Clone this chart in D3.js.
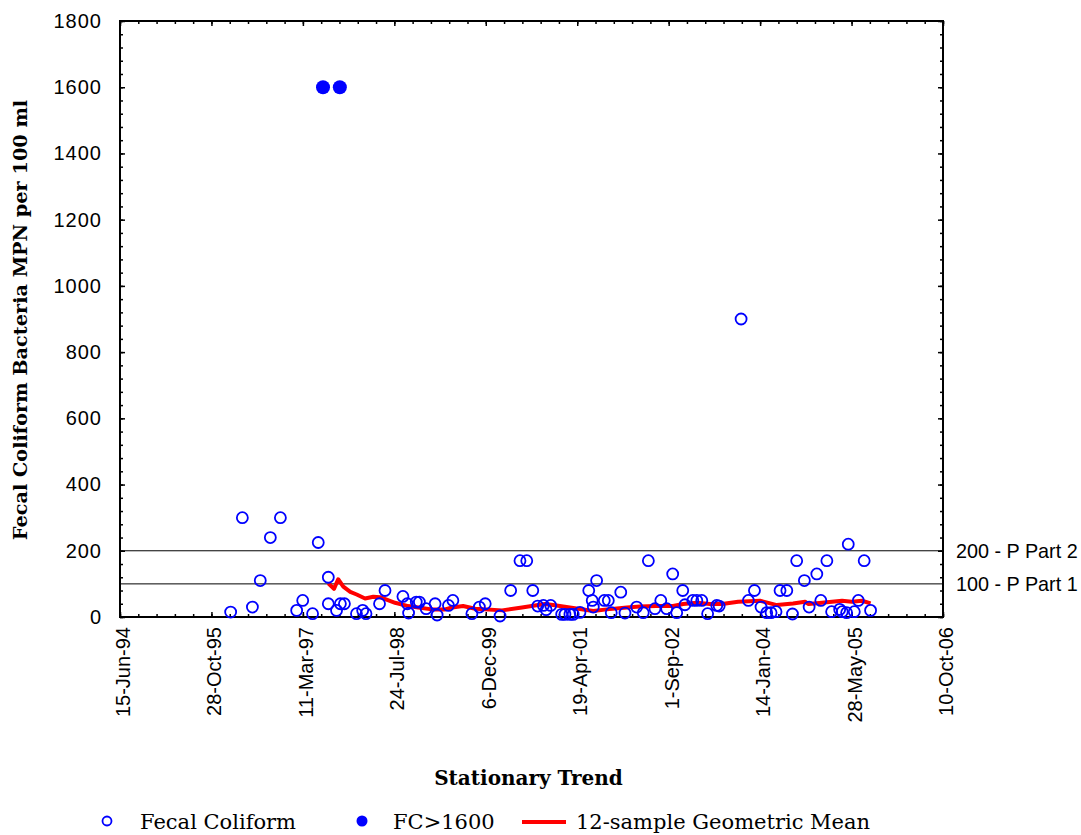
<!DOCTYPE html>
<html>
<head>
<meta charset="utf-8">
<script src="https://cdn.jsdelivr.net/npm/d3@7"></script>
<style>
  body { margin: 0; background: #fff; }
  .sans { font-family: "Liberation Sans", Arial, sans-serif; }
  .serif { font-family: "DejaVu Serif", "Liberation Serif", serif; }
</style>
</head>
<body>
<script>
// x tick labels (every 500 days)
var tickLabels = ["15-Jun-94", "28-Oct-95", "11-Mar-97", "24-Jul-98", "6-Dec-99",
                  "19-Apr-01", "1-Sep-02", "14-Jan-04", "28-May-05", "10-Oct-06"];
var yTicks = [0, 200, 400, 600, 800, 1000, 1200, 1400, 1600, 1800];

// Fecal Coliform samples
var fcDates = ["1996-02-10", "1996-04-14", "1996-06-08", "1996-07-21", "1996-09-14", "1996-11-08",
    "1997-02-05", "1997-03-10", "1997-05-03", "1997-06-03", "1997-07-28", "1997-07-28", "1997-09-11",
    "1997-10-02", "1997-10-24", "1997-12-29", "1998-02-01", "1998-02-19", "1998-05-04", "1998-06-03",
    "1998-09-09", "1998-10-03", "1998-10-10", "1998-11-21", "1998-12-08", "1999-01-14", "1999-03-04",
    "1999-03-15", "1999-05-16", "1999-06-09", "1999-09-21", "1999-11-01", "1999-12-03", "2000-02-22",
    "2000-04-20", "2000-06-10", "2000-07-17", "2000-08-19", "2000-09-15", "2000-10-16", "2000-10-31",
    "2000-11-25", "2001-01-24", "2001-02-11", "2001-03-10", "2001-03-28", "2001-05-04", "2001-06-21",
    "2001-07-10", "2001-07-16", "2001-08-03", "2001-09-14", "2001-10-06", "2001-10-22", "2001-12-13",
    "2002-01-05", "2002-03-10", "2002-04-15", "2002-05-13", "2002-06-18", "2002-07-20", "2002-08-21",
    "2002-09-23", "2002-10-15", "2002-11-17", "2002-11-29", "2003-01-11", "2003-02-02", "2003-03-01",
    "2003-04-02", "2003-05-22", "2003-06-04", "2003-10-02", "2003-11-11", "2003-12-14", "2004-01-19",
    "2004-02-19", "2004-03-14", "2004-04-10", "2004-05-02", "2004-06-08", "2004-07-09", "2004-08-01",
    "2004-09-12", "2004-10-08", "2004-11-19", "2004-12-11", "2005-01-13", "2005-02-08", "2005-03-24",
    "2005-04-07", "2005-05-01", "2005-05-10", "2005-06-12", "2005-07-04", "2005-08-05", "2005-09-09"];
var fcValues = [15, 300, 30, 110, 240, 300,
    20, 50, 10, 225, 120, 40, 20,
    40, 40, 10, 20, 10, 40, 80,
    62, 40, 12, 45, 45, 25, 40,
    6, 35, 50, 10, 30, 40, 3,
    80, 170, 170, 80, 33, 35, 22,
    35, 8, 8, 8, 8, 14, 80,
    50, 30, 110, 50, 50, 13, 75,
    12, 30, 13, 170, 25, 50, 25,
    130, 13, 80, 37, 50, 50, 50,
    10, 35, 33, 900, 50, 80, 30,
    13, 13, 16, 80, 80, 9, 170,
    110, 30, 130, 50, 170, 16, 23,
    16, 13, 220, 16, 50, 170, 20];

// FC > 1600 (plotted at 1600)
var highDates = ["1997-06-29", "1997-09-29"];
var highValues = [1600, 1600];

// 12-sample geometric mean
var gmDates = ["1997-07-28", "1997-08-28", "1997-09-20", "1997-10-18", "1997-11-25", "1997-12-30",
    "1998-02-14", "1998-03-31", "1998-05-07", "1998-07-28", "1998-10-08", "1998-12-02", "1999-02-14",
    "1999-04-28", "1999-06-05", "1999-08-04", "1999-10-09", "2000-03-04", "2000-06-21", "2000-09-17",
    "2000-10-25", "2000-12-08", "2001-03-28", "2001-07-16", "2001-09-28", "2002-01-16", "2002-03-28",
    "2002-06-24", "2002-09-25", "2002-11-19", "2003-02-03", "2003-04-15", "2003-06-20", "2003-09-16",
    "2004-01-13", "2004-04-15", "2004-07-12", "2004-09-16", "2004-10-05", "2004-12-17", "2005-04-06",
    "2005-05-30", "2005-07-24", "2005-09-09"];
var gmValues = [102, 85, 114, 92, 76, 68,
    56, 61, 60, 43, 33, 29, 23,
    23, 29, 33, 25, 20, 29, 36,
    39, 36, 27, 18, 23, 29, 32,
    33, 33, 39, 43, 39, 39, 46,
    49, 36, 41, 46, 39, 43, 49,
    46, 49, 41];

var refValues = [200, 100];
var refLabels = ["200 - P Part 2", "100 - P Part 1"];

(function () {
    var width = 1081, height = 835;
    var plotLeft = 120, plotRight = 943, plotTop = 21, plotBottom = 617;

    var parseDate = d3.timeParse("%Y-%m-%d");
    var parseTick = d3.timeParse("%d-%b-%y");
    var tickDates = tickLabels.map(parseTick);

    var x = d3.scaleTime()
        .domain([tickDates[0], tickDates[tickDates.length - 1]])
        .range([plotLeft, plotRight]);
    var y = d3.scaleLinear()
        .domain([0, 1800])
        .range([plotBottom, plotTop]);

    var minorX = d3.range(0, 46).map(function (i) { return d3.timeDay.offset(tickDates[0], i * 100); });
    var minorY = d3.range(0, 1801, 40);

    var svg = d3.select("body").append("svg")
        .attr("width", width)
        .attr("height", height);

    // ticks on all four sides, pointing inward
    function addAxis(axis, tf) {
        var g = svg.append("g").attr("transform", tf).call(axis);
        g.select(".domain").remove();
        g.selectAll("line").attr("stroke", "#000").attr("stroke-width", 1.5);
        return g;
    }
    addAxis(d3.axisBottom(x).tickValues(minorX).tickSize(-3).tickFormat(""), "translate(0," + plotBottom + ")");
    addAxis(d3.axisBottom(x).tickValues(tickDates).tickSize(-5).tickFormat(""), "translate(0," + plotBottom + ")");
    addAxis(d3.axisTop(x).tickValues(minorX).tickSize(-3).tickFormat(""), "translate(0," + plotTop + ")");
    addAxis(d3.axisTop(x).tickValues(tickDates).tickSize(-5).tickFormat(""), "translate(0," + plotTop + ")");
    addAxis(d3.axisRight(y).tickValues(minorY).tickSize(-3).tickFormat(""), "translate(" + plotRight + ",0)");
    addAxis(d3.axisRight(y).tickValues(yTicks).tickSize(-5).tickFormat(""), "translate(" + plotRight + ",0)");
    addAxis(d3.axisLeft(y).tickValues(minorY).tickSize(-3).tickFormat(""), "translate(" + plotLeft + ",0)");
    var yAxisG = addAxis(d3.axisLeft(y).tickValues(yTicks).tickSize(-5).tickPadding(18).tickFormat(d3.format("d")),
        "translate(" + plotLeft + ",0)");
    yAxisG.attr("font-family", null).attr("font-size", null);
    yAxisG.selectAll("text")
        .attr("class", "sans")
        .style("font-size", "20px")
        .style("letter-spacing", "1px")
        .attr("fill", "#000");

    // x tick labels, rotated
    svg.append("g").selectAll("text")
        .data(tickDates)
        .enter()
        .append("text")
        .attr("class", "sans")
        .attr("transform", function (d) { return "translate(" + x(d) + "," + (plotBottom + 10) + ") rotate(-90)"; })
        .attr("text-anchor", "end")
        .attr("dy", "0.5em")
        .style("font-size", "20px")
        .text(function (d, i) { return tickLabels[i]; });

    // reference lines
    svg.append("g").selectAll("line")
        .data(refValues)
        .enter()
        .append("line")
        .attr("x1", plotLeft).attr("x2", plotRight)
        .attr("y1", function (d) { return y(d); })
        .attr("y2", function (d) { return y(d); })
        .attr("stroke", "#000")
        .attr("stroke-width", 1);

    svg.append("g").selectAll("text")
        .data(refValues)
        .enter()
        .append("text")
        .attr("class", "sans")
        .attr("x", plotRight + 13)
        .attr("y", function (d) { return y(d); })
        .attr("dy", "0.36em")
        .style("font-size", "19.8px")
        .text(function (d, i) { return refLabels[i]; });

    // plot frame
    svg.append("rect")
        .attr("x", plotLeft).attr("y", plotTop)
        .attr("width", plotRight - plotLeft).attr("height", plotBottom - plotTop)
        .attr("fill", "none")
        .attr("stroke", "#000")
        .attr("stroke-width", 2);

    // geometric mean line
    var line = d3.line()
        .x(function (d) { return x(d[0]); })
        .y(function (d) { return y(d[1]); });
    svg.append("path")
        .datum(gmDates.map(function (d, i) { return [parseDate(d), gmValues[i]]; }))
        .attr("d", line)
        .attr("fill", "none")
        .attr("stroke", "#ff0000")
        .attr("stroke-width", 4)
        .attr("stroke-linejoin", "round");

    // open circles
    svg.append("g").selectAll("circle")
        .data(fcDates)
        .enter()
        .append("circle")
        .attr("cx", function (d) { return x(parseDate(d)); })
        .attr("cy", function (d, i) { return y(fcValues[i]); })
        .attr("r", 5.5)
        .attr("fill", "none")
        .attr("stroke", "#0000ff")
        .attr("stroke-width", 1.8);

    // filled circles
    svg.append("g").selectAll("circle")
        .data(highDates)
        .enter()
        .append("circle")
        .attr("cx", function (d) { return x(parseDate(d)); })
        .attr("cy", function (d, i) { return y(highValues[i]); })
        .attr("r", 7)
        .attr("fill", "#0000ff");

    // axis titles
    svg.append("text")
        .attr("class", "serif")
        .attr("transform", "translate(27," + ((plotTop + plotBottom) / 2 + 1) + ") rotate(-90)")
        .attr("text-anchor", "middle")
        .style("font-size", "19.3px")
        .style("font-weight", "bold")
        .text("Fecal Coliform Bacteria MPN per 100 ml");

    svg.append("text")
        .attr("class", "serif")
        .attr("x", (plotLeft + plotRight) / 2 - 3)
        .attr("y", 785)
        .attr("text-anchor", "middle")
        .style("font-size", "20px")
        .style("font-weight", "bold")
        .text("Stationary Trend");

    // legend
    var legendY = 822;
    var legend = svg.append("g");
    legend.append("circle")
        .attr("cx", 107).attr("cy", legendY - 1).attr("r", 4.5)
        .attr("fill", "none").attr("stroke", "#0000ff").attr("stroke-width", 1.8);
    legend.append("text").attr("class", "serif")
        .attr("x", 140).attr("y", legendY).attr("dy", "0.35em")
        .style("font-size", "21px").text("Fecal Coliform");
    legend.append("circle")
        .attr("cx", 362).attr("cy", legendY - 1).attr("r", 5.5)
        .attr("fill", "#0000ff");
    legend.append("text").attr("class", "serif")
        .attr("x", 393).attr("y", legendY).attr("dy", "0.35em")
        .style("font-size", "21px").text("FC>1600");
    legend.append("line")
        .attr("x1", 522).attr("x2", 566).attr("y1", legendY).attr("y2", legendY)
        .attr("stroke", "#ff0000").attr("stroke-width", 4);
    legend.append("text").attr("class", "serif")
        .attr("x", 576).attr("y", legendY).attr("dy", "0.35em")
        .style("font-size", "21px").text("12-sample Geometric Mean");
})();
</script>
</body>
</html>
